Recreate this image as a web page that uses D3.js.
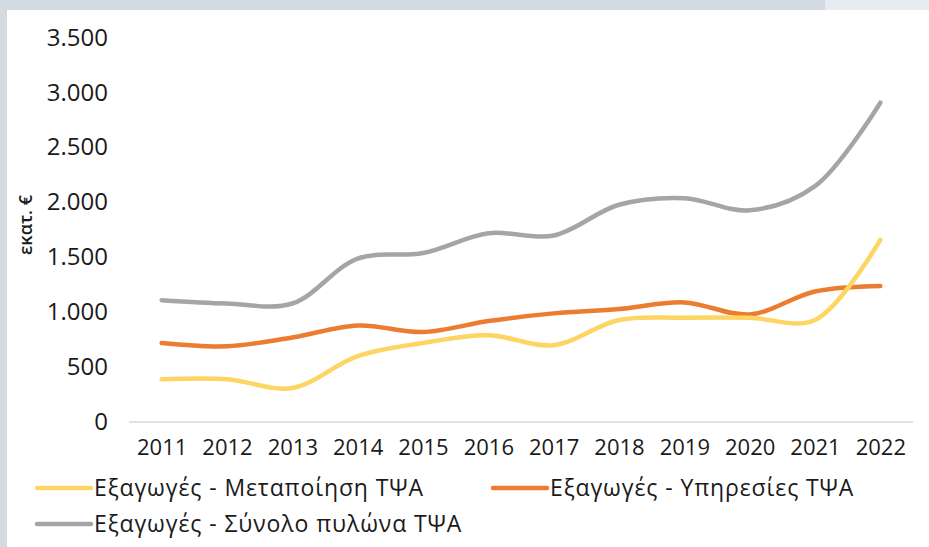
<!DOCTYPE html>
<html>
<head>
<meta charset="utf-8">
<script src="https://cdn.jsdelivr.net/npm/d3@7"></script>
<style>
  html, body { margin: 0; padding: 0; background: #ffffff; }
  svg { display: block; }
  text { font-family: "Open Sans", "Noto Sans", sans-serif; fill: #1a1a1a; }
</style>
</head>
<body>
<svg id="chart" width="929" height="547"></svg>
<script>
// Exports of the ICT sector, million €
const years = ["2011","2012","2013","2014","2015","2016","2017","2018","2019","2020","2021","2022"];
const manufacturing = [390, 390, 310, 600, 720, 790, 700, 930, 950, 950, 930, 1660];
const services      = [720, 690, 770, 880, 820, 920, 990, 1030, 1090, 980, 1190, 1240];
const total         = [1110, 1080, 1080, 1490, 1540, 1720, 1700, 1980, 2040, 1930, 2150, 2910];
const yTicks = [0, 500, 1000, 1500, 2000, 2500, 3000, 3500];
const seriesNames = ["Εξαγωγές - Μεταποίηση ΤΨΑ", "Εξαγωγές - Υπηρεσίες ΤΨΑ", "Εξαγωγές - Σύνολο πυλώνα ΤΨΑ"];
const seriesColors = ["#fdd562", "#ec7c30", "#a5a5a5"];
const yTitle = "εκατ. €";

const svg = d3.select("#chart");
const W = 929, H = 547;

// page frame
svg.append("rect").attr("x", 0).attr("y", 0).attr("width", W).attr("height", H).attr("fill", "#d2dae2");
svg.append("rect").attr("x", 825).attr("y", 0).attr("width", W - 825).attr("height", 10).attr("fill", "#e7ecf3");
svg.append("rect").attr("x", 7).attr("y", 10).attr("width", W - 7).attr("height", H - 10).attr("fill", "#ffffff");

const x = d3.scalePoint().domain(years).range([129, 913]).padding(0.5);
const y = d3.scaleLinear().domain([0, 3500]).range([422, 38]);

// y axis labels (no axis line)
const yAxis = d3.axisLeft(y).tickValues(yTicks).tickSize(0).tickPadding(0)
  .tickFormat(d => d3.format(",")(d).replace(/,/g, "."));
const gy = svg.append("g").attr("transform", "translate(108,0)").call(yAxis);
gy.select(".domain").remove();
gy.selectAll("text").attr("font-size", 24).attr("font-family", "Open Sans, sans-serif")
  .attr("fill", "#1a1a1a").attr("dy", "0.3em");

// x axis
const xAxis = d3.axisBottom(x).tickSize(0).tickPadding(17);
const gx = svg.append("g").attr("transform", "translate(0,422)").call(xAxis);
gx.select(".domain").attr("stroke", "#d9d9d9").attr("stroke-width", 1.5).attr("d", "M129,0H913");
gx.selectAll("text").attr("font-size", 22).attr("font-family", "Open Sans, sans-serif").attr("fill", "#1a1a1a");

// y title
svg.append("text")
  .attr("transform", "translate(32,225) rotate(-90)")
  .attr("text-anchor", "middle")
  .attr("font-size", 18)
  .attr("font-weight", 600)
  .text(yTitle);

// lines
const data = [manufacturing, services, total];
const line = d3.line()
  .x((d, i) => x(years[i]))
  .y(d => y(d))
  .curve(d3.curveCatmullRom.alpha(0.5));

const drawOrder = [2, 1, 0];
drawOrder.forEach(k => {
  svg.append("path")
    .datum(data[k])
    .attr("d", line)
    .attr("fill", "none")
    .attr("stroke", seriesColors[k])
    .attr("stroke-width", 4.5)
    .attr("stroke-linecap", "round")
    .attr("stroke-linejoin", "round");
});

// legend
const legendPos = [[37, 488], [493, 488], [37, 524]];
seriesNames.forEach((name, k) => {
  const [lx, ly] = legendPos[k];
  const g = svg.append("g").attr("transform", `translate(${lx},${ly})`);
  g.append("line").attr("x1", 0).attr("x2", 54).attr("y1", 0).attr("y2", 0)
    .attr("stroke", seriesColors[k]).attr("stroke-width", 4.5).attr("stroke-linecap", "round");
  g.append("text").attr("x", 57).attr("y", 0).attr("dy", "0.36em")
    .attr("font-size", 23).attr("letter-spacing", 0.9).text(name);
});
</script>
</body>
</html>
